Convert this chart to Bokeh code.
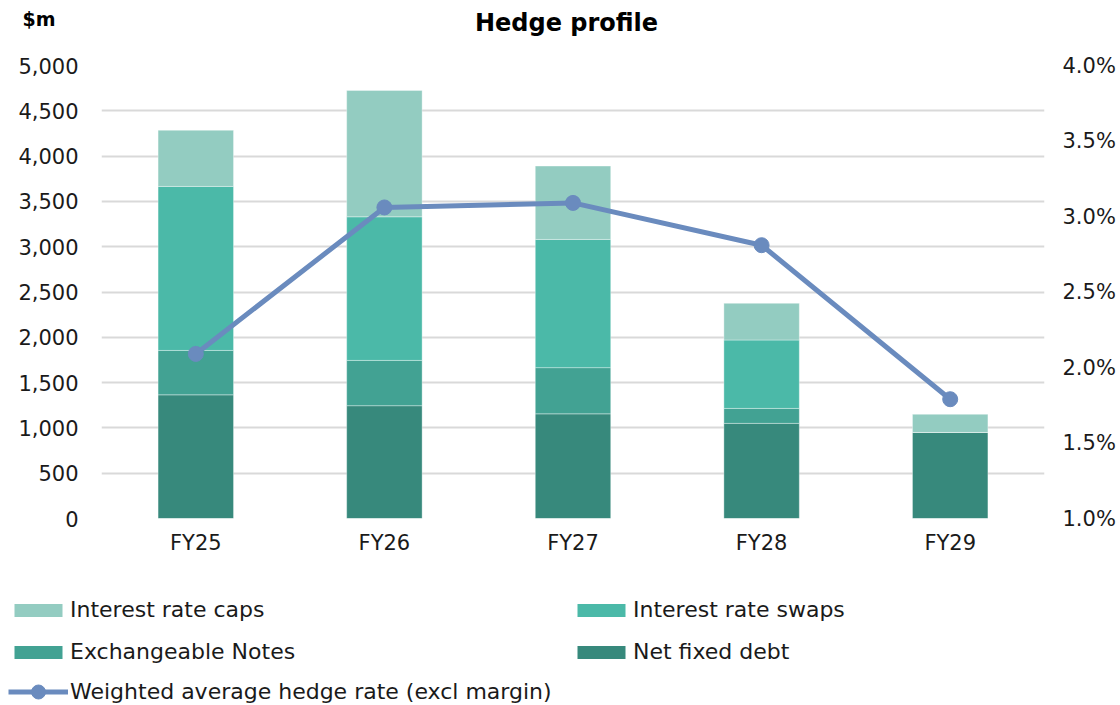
from bokeh.plotting import figure
from bokeh.layouts import column
from bokeh.models import (FactorRange, Range1d, LinearAxis, NumeralTickFormatter,
                          PrintfTickFormatter, FixedTicker, Legend, LegendItem, Label,
                          ColumnDataSource)
from bokeh.embed import file_html
from bokeh.resources import INLINE

# ---- data ----
years = ["FY25", "FY26", "FY27", "FY28", "FY29"]
net_fixed_debt = [1365, 1245, 1155, 1050, 950]
exchangeable_notes = [490, 500, 510, 165, 0]
interest_rate_swaps = [1810, 1585, 1415, 755, 0]
interest_rate_caps = [620, 1395, 810, 405, 200]
hedge_rate_pct = [2.09, 3.06, 3.09, 2.81, 1.79]

left_ticks = [0, 500, 1000, 1500, 2000, 2500, 3000, 3500, 4000, 4500, 5000]
right_ticks = [1.0, 1.5, 2.0, 2.5, 3.0, 3.5, 4.0]

series_labels = ["Net fixed debt", "Exchangeable Notes", "Interest rate swaps", "Interest rate caps"]
line_label = "Weighted average hedge rate (excl margin)"
chart_title = "Hedge profile"
unit_label = "$m"

FONT = "DejaVu Sans"
TXT = "#1a1a1a"
colors = ["#37897C", "#42A293", "#4BB9A8", "#93CCC1"]
LINE_C = "#6A8BBE"
W = 1120

def bare(fig):
    fig.outline_line_color = None
    fig.background_fill_color = "white"
    fig.border_fill_color = "white"
    fig.xgrid.grid_line_color = None
    fig.ygrid.grid_line_color = None

source = ColumnDataSource(dict(
    year=years,
    net=net_fixed_debt,
    exch=exchangeable_notes,
    swaps=interest_rate_swaps,
    caps=interest_rate_caps,
    rate=hedge_rate_pct,
))

# ---------- header (title + unit) ----------
HH = 50
head = figure(width=W, height=HH, x_range=Range1d(0, W), y_range=Range1d(0, HH),
              x_axis_type=None, y_axis_type=None, output_backend="svg", toolbar_location=None,
              min_border=0, frame_align=False)
bare(head)
head.add_layout(Label(x=566, y=HH - 22, text=chart_title, text_font=FONT,
                      text_font_size="24px", text_font_style="bold", text_color="black",
                      text_align="center", text_baseline="middle"))
head.add_layout(Label(x=22, y=HH - 18, text=unit_label, text_font=FONT,
                      text_font_size="19px", text_font_style="bold", text_color="black",
                      text_align="left", text_baseline="middle"))

# ---------- main chart ----------
MH = 540
p = figure(x_range=FactorRange(*years, range_padding=0), y_range=Range1d(0, 5000),
           width=W, height=MH, output_backend="svg", toolbar_location=None,
           min_border_left=101, min_border_right=76, min_border_top=65 - HH,
           min_border_bottom=MH - (518 - HH), frame_align=False)
bare(p)
p.extra_y_ranges = {"pct": Range1d(1.0, 4.0)}

bar_rs = p.vbar_stack(["net", "exch", "swaps", "caps"], x="year", width=0.4, color=colors,
                      source=source, line_color="white", line_alpha=0.35, line_width=1)
line_r = p.line(x="year", y="rate", source=source, y_range_name="pct",
                line_color=LINE_C, line_width=5)
dot_r = p.scatter(x="year", y="rate", source=source, y_range_name="pct", marker="circle",
                  size=15, fill_color=LINE_C, line_color=LINE_C)

yl = p.yaxis[0]
yl.ticker = FixedTicker(ticks=left_ticks)
yl.formatter = NumeralTickFormatter(format="0,0")
yr = LinearAxis(y_range_name="pct", ticker=FixedTicker(ticks=right_ticks),
                formatter=PrintfTickFormatter(format="%.1f%%"))
p.add_layout(yr, "right")
for ax in [yl, yr, p.xaxis[0]]:
    ax.axis_line_color = None
    ax.major_tick_line_color = None
    ax.minor_tick_line_color = None
    ax.major_label_text_font = FONT
    ax.major_label_text_font_size = "21px"
    ax.major_label_text_color = TXT
yl.major_label_standoff = 17
yr.major_label_standoff = 12
p.xaxis[0].major_label_standoff = 6
p.ygrid.grid_line_color = "#D9D9D9"
p.ygrid.grid_line_width = 2

# ---------- legend strip ----------
# (hidden copies of the series give the legend its swatches)
LH = 705 - HH - MH
leg = figure(width=W, height=LH, x_range=FactorRange(*years), y_range=Range1d(0, 1),
             x_axis_type=None, y_axis_type=None, output_backend="svg", toolbar_location=None,
             min_border=0, frame_align=False)
bare(leg)
swatches = [leg.vbar(x="year", top=col, width=0.4, source=source, fill_color=c,
                     line_color=None, visible=False)
            for col, c in zip(["net", "exch", "swaps", "caps"], colors)]
l_line = leg.line(x="year", y="rate", source=source, line_color=LINE_C, line_width=5,
                  visible=False)
l_dot = leg.scatter(x="year", y="rate", source=source, marker="circle", fill_color=LINE_C,
                    line_color=LINE_C, visible=False)

common = dict(padding=0, margin=0, border_line_color=None, background_fill_alpha=0,
              label_text_font=FONT, label_text_font_size="22px", label_text_color=TXT,
              label_standoff=2, glyph_width=60)
bars_legend = Legend(items=[
    LegendItem(label=series_labels[3], renderers=[swatches[3]]),
    LegendItem(label=series_labels[2], renderers=[swatches[2]]),
    LegendItem(label=series_labels[1], renderers=[swatches[1]]),
    LegendItem(label=series_labels[0], renderers=[swatches[0]]),
], location=(8, LH - 74), orientation="horizontal", ncols=2, spacing=17,
    glyph_height=16, label_height=24, label_width=484, **common)
line_legend = Legend(items=[LegendItem(label=line_label, renderers=[l_line, l_dot])],
                     location=(8, LH - 119), glyph_height=35, label_height=35, **common)
leg.add_layout(bars_legend)
leg.add_layout(line_legend)

layout = column(head, p, leg, spacing=0)
open("out.html", "w").write(file_html(layout, INLINE))
